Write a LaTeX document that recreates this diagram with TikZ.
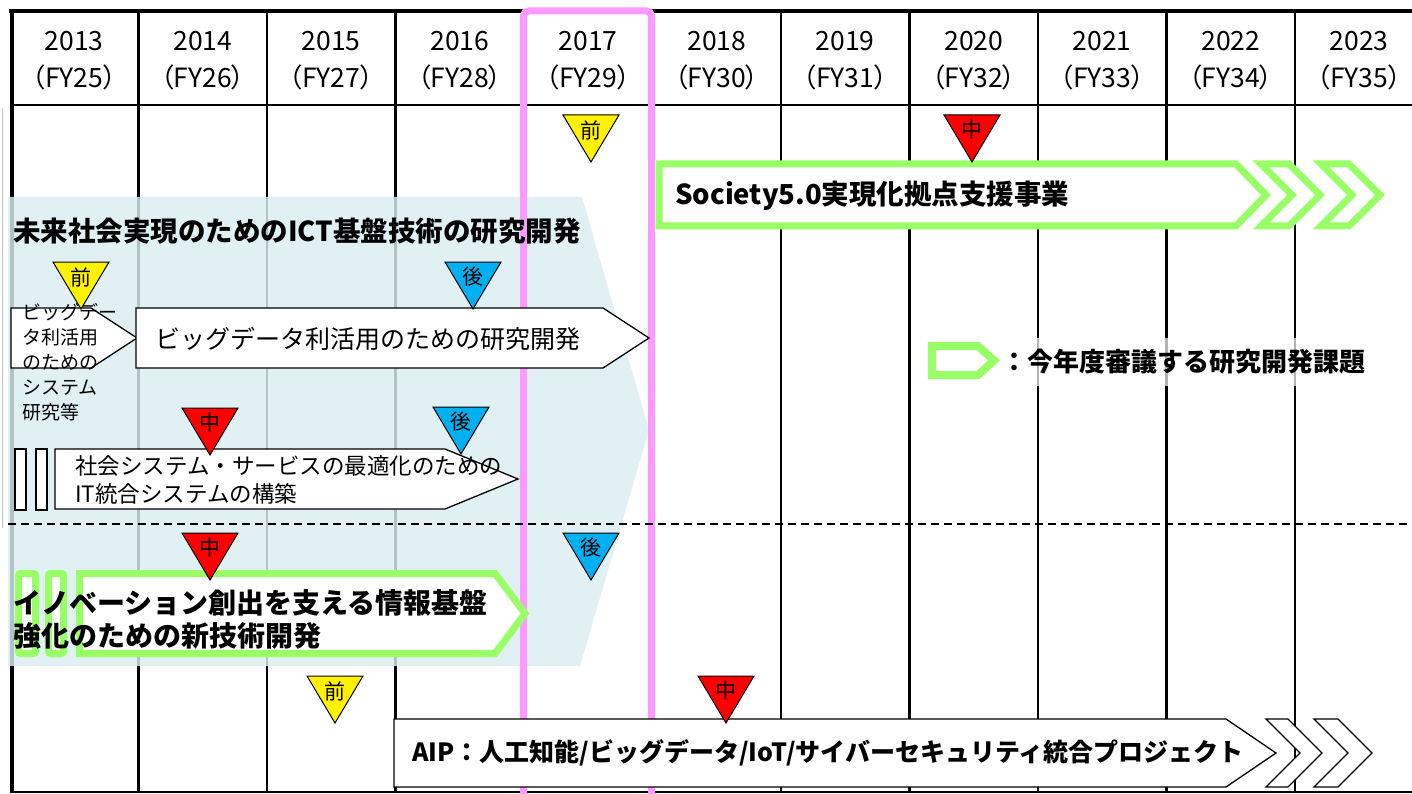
\documentclass[tikz,border=0pt]{standalone}
\usepackage{fontspec}
\setmainfont{Noto Sans CJK JP}
\newfontfamily\hdfont{Noto Sans CJK JP}[RawFeature=+palt]
\definecolor{gridblue}{RGB}{218,237,241}
\definecolor{pinkline}{RGB}{255,153,255}
\definecolor{grn}{RGB}{153,255,102}
\definecolor{mkblue}{RGB}{0,176,240}
\newcommand\mkr[5]{%
  \filldraw[mkshape,fill=#4] (#2-28,#3) -- (#2+28,#3) -- (#2,#3+47) -- cycle;
  \node[mktext] (#1) at (#2,#3+15) {#5};}
\begin{document}
\begin{tikzpicture}[x=1pt,y=-1pt,
  gridline/.style={line width=2.5pt,black},
  wbox/.style={draw=black,line width=1.3pt,fill=white,line join=miter},
  gbox/.style={draw=grn,line width=7pt,fill=white,line join=miter},
  mkshape/.style={draw=black,line width=1pt,line join=miter},
  mktext/.style={inner sep=0pt,font=\fontsize{21}{21}\selectfont},
  yeartext/.style={inner sep=0pt,anchor=base,font=\fontsize{26.5}{30}\selectfont},
  fytext/.style={inner sep=0pt,anchor=base,font=\hdfont\fontsize{26.5}{30}\selectfont},
  boldtext/.style={inner sep=0pt,anchor=west,font=\bfseries\fontsize{#1}{#1}\selectfont},
]
\useasboundingbox (0,0) rectangle (1412,794);
\fill[white] (0,0) rectangle (1412,794);

% grid
\foreach \i in {1,...,10} \draw[gridline] ({10+128.5*\i},10) -- ({10+128.5*\i},792);
\draw[line width=4pt] (9,11) -- (1412,11);
\draw[line width=4pt] (12,9) -- (12,792);
\draw[gridline] (10,105) -- (1412,105);
\draw[gridline] (10,792) -- (1412,792);
\draw[gray!45,line width=1pt] (2,108) -- (2,528);

% header
\foreach \i/\yr/\fy in {0/2013/25,1/2014/26,2/2015/27,3/2016/28,4/2017/29,5/2018/30,6/2019/31,7/2020/32,8/2021/33,9/2022/34,10/2023/35}{
  \node[yeartext] (yr\i) at ({10+128.5*(\i+0.5)},51) {\yr};
  \node[fytext] (fy\i) at ({10+128.5*(\i+0.5)},88) {（FY\fy）};
}

% light blue background arrow
\fill[gridblue,fill opacity=0.82] (8,197) -- (582,197) -- (649,430) -- (580,666) -- (8,666) -- cycle;

% pink frame around 2017
\draw[pinkline,line width=7pt,rounded corners=5pt] (523.5,805) -- (523.5,11) -- (651.5,11) -- (651.5,805);

% dashed separator
\draw[black,line width=1.6pt,dash pattern=on 8pt off 5pt] (8,524) -- (1412,524);

% title of the blue block
\node[boldtext=27.5] (title) at (13,231) {未来社会実現のためのICT基盤技術の研究開発};

% small left box
\draw[wbox] (11,308) -- (91,308) -- (137,338) -- (91,368) -- (11,368) -- cycle;
\node[anchor=north west,inner sep=0pt,align=left,font=\fontsize{19}{25}\selectfont] (small) at (22,303)
  {ビッグデー\\タ利活用\\のための\\システム\\研究等};

% big data box
\draw[wbox] (136,308) -- (603,308) -- (649,338) -- (603,368) -- (136,368) -- cycle;
\node[anchor=west,inner sep=0pt,font=\fontsize{25}{30}\selectfont] (bigdata) at (155,339) {ビッグデータ利活用のための研究開発};

% social system box
\draw[wbox] (15,449) rectangle (26,510);
\draw[wbox] (36,449) rectangle (47,510);
\draw[wbox] (55,449) -- (445,449) -- (518,479) -- (445,509) -- (55,509) -- cycle;
\node[anchor=north west,inner sep=0pt,align=left,font=\fontsize{22.5}{28}\selectfont] (social) at (75,455)
  {社会システム・サービスの最適化のための\\IT統合システムの構築};

% innovation box (green)
\draw[gbox,rounded corners=2pt] (18.5,573.5) rectangle (35.5,653.5);
\draw[gbox,rounded corners=2pt] (48.5,573.5) rectangle (63.5,653.5);
\draw[gbox] (79.5,573.5) -- (495,573.5) -- (525,613.5) -- (495,653.5) -- (79.5,653.5) -- cycle;
\node[anchor=north west,inner sep=0pt,align=left,font=\bfseries\fontsize{28}{33}\selectfont] (innov) at (13,589)
  {イノベーション創出を支える情報基盤\\強化のための新技術開発};

% Society 5.0 box (green)
\draw[gbox] (659,164) -- (1236,164) -- (1266,195) -- (1236,226) -- (659,226) -- cycle;
\draw[gbox] (1261,164) -- (1289,164) -- (1320,195) -- (1289,226) -- (1261,226) -- (1292,195) -- cycle;
\draw[gbox] (1321,164) -- (1349,164) -- (1380,195) -- (1349,226) -- (1321,226) -- (1352,195) -- cycle;
\node[boldtext=27.5] (society) at (675,196) {Society5.0実現化拠点支援事業};

% AIP box
\draw[wbox] (394,719) -- (1226,719) -- (1276,753) -- (1226,787) -- (394,787) -- cycle;
\draw[wbox] (1266,719) -- (1288,719) -- (1322,753) -- (1288,787) -- (1266,787) -- (1300,753) -- cycle;
\draw[wbox] (1314,719) -- (1338,719) -- (1372,753) -- (1338,787) -- (1314,787) -- (1348,753) -- cycle;
\node[boldtext=25] (aip) at (412,753) {AIP：人工知能/ビッグデータ/IoT/サイバーセキュリティ統合プロジェクト};

% legend
\draw[gbox,line width=8pt] (932,346) -- (978,346) -- (994,360.5) -- (978,375) -- (932,375) -- cycle;
\node[boldtext=26,fill=white,fill opacity=0.7,text opacity=1,minimum height=48pt] (legend) at (1001,362) {：今年度審議する研究開発課題};

% markers
\mkr{m1}{591}{115}{yellow}{前}
\mkr{m2}{972}{115}{red}{中}
\mkr{m3}{81}{262}{yellow}{前}
\mkr{m4}{473}{262}{mkblue}{後}
\mkr{m5}{210}{408}{red}{中}
\mkr{m6}{461}{407}{mkblue}{後}
\mkr{m7}{210}{533}{red}{中}
\mkr{m8}{591}{533}{mkblue}{後}
\mkr{m9}{335}{676}{yellow}{前}
\mkr{m10}{726}{676}{red}{中}
\end{tikzpicture}
\end{document}
